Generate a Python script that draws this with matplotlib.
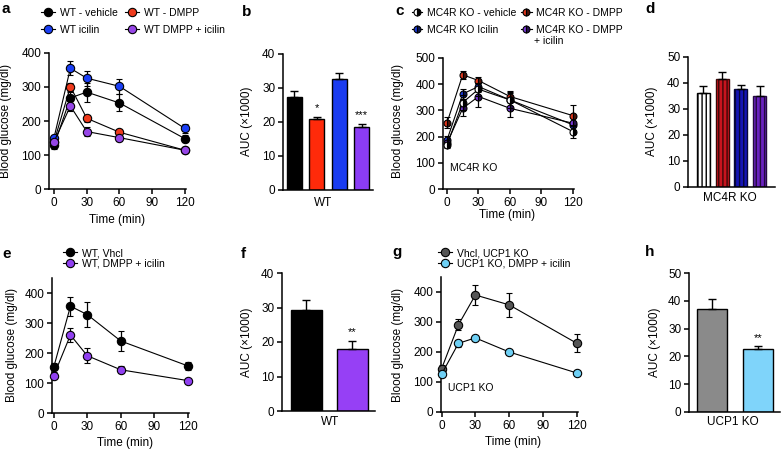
import matplotlib
matplotlib.use("Agg")
import matplotlib.pyplot as plt
from matplotlib.lines import Line2D

# ---- data ----
TIME = [0, 15, 30, 60, 120]

# panel a: WT glucose tolerance
a_vehicle = [128, 268, 285, 253, 148]
a_vehicle_err = [10, 18, 28, 25, 10]
a_dmpp = [139, 301, 208, 167, 114]
a_dmpp_err = [6, 12, 10, 8, 5]
a_icilin = [151, 355, 326, 302, 178]
a_icilin_err = [8, 20, 22, 22, 12]
a_combo = [139, 244, 169, 151, 114]
a_combo_err = [6, 15, 12, 10, 5]

# panel b: WT AUC
b_auc = [27.3, 21.0, 32.7, 18.5]
b_err = [1.8, 0.4, 1.7, 1.0]
b_stars = ["", "*", "", "***"]

# panel c: MC4R KO
c_vehicle = [168, 330, 381, 340, 219]
c_vehicle_err = [12, 30, 25, 30, 25]
c_dmpp = [253, 436, 414, 353, 280]
c_dmpp_err = [20, 15, 15, 20, 40]
c_icilin = [187, 363, 391, 340, 245]
c_icilin_err = [15, 20, 20, 25, 30]
c_combo = [175, 308, 353, 308, 251]
c_combo_err = [15, 30, 40, 35, 25]

# panel d: MC4R KO AUC
d_auc = [36.2, 41.5, 37.5, 35.0]
d_err = [2.8, 2.7, 1.8, 4.0]

# panel e: WT, vehicle vs DMPP + icilin
e_vehicle = [152, 356, 328, 240, 157]
e_vehicle_err = [15, 32, 42, 33, 12]
e_combo = [124, 260, 191, 144, 108]
e_combo_err = [5, 22, 25, 12, 5]

# panel f
f_auc = [29.3, 18.0]
f_err = [3.0, 2.2]
f_stars = ["", "**"]

# panel g: UCP1 KO
g_vehicle = [144, 291, 390, 357, 229]
g_vehicle_err = [12, 18, 32, 40, 30]
g_combo = [126, 229, 247, 200, 130]
g_combo_err = [5, 12, 5, 5, 5]

# panel h
h_auc = [37.2, 22.7]
h_err = [3.4, 1.0]
h_stars = ["", "**"]

W, H = 782, 451
FS = 8.5
plt.rcParams["font.family"] = ["Liberation Sans", "DejaVu Sans"]
plt.rcParams["font.size"] = FS
plt.rcParams["hatch.linewidth"] = 1.0

fig = plt.figure(figsize=(W / 100, H / 100), dpi=100)


def fig_xy(x, y):
    """Pixel position (from top-left) to figure fraction."""
    return x / W, 1 - y / H


def add_panel(x0, x1, top, bottom):
    ax = fig.add_axes([x0 / W, 1 - bottom / H, (x1 - x0) / W, (bottom - top) / H])
    for side in ("top", "right"):
        ax.spines[side].set_visible(False)
    for side in ("left", "bottom"):
        ax.spines[side].set_linewidth(1.1)
    ax.tick_params(direction="out", length=3.5, width=1.1, labelsize=FS, pad=2)
    return ax


def line_series(ax, y, err, face, alt=None, ms=6, z=3):
    kw = dict(marker="o", ms=ms, mfc=face, mec="black", mew=0.8)
    if alt is not None:
        kw.update(fillstyle="left", markerfacecoloralt=alt)
    ax.errorbar(TIME, y, yerr=err, color="black", lw=0.8, elinewidth=0.9,
                capsize=2.5, capthick=0.9, zorder=z, clip_on=False, **kw)


def handle(face, alt=None, ms=6):
    kw = dict(marker="o", ms=ms, mfc=face, mec="black", mew=0.8)
    if alt is not None:
        kw.update(fillstyle="left", markerfacecoloralt=alt)
    return Line2D([], [], color="black", lw=0.8, **kw)


def bar_panel(ax, vals, errs, colors, width, edge=None, hatch=None, stars=None):
    x = list(range(len(vals)))
    edges = edge if edge is not None else ["black"] * len(vals)
    for i in x:
        ax.bar(i, vals[i], width, color=colors[i], edgecolor=edges[i], lw=1.0,
               hatch=hatch, yerr=[[0], [errs[i]]],
               error_kw=dict(ecolor="black", elinewidth=1.0, capsize=3, capthick=1.0),
               zorder=2)
        if stars and stars[i]:
            ax.text(i, vals[i] + errs[i] + 1.2, stars[i], ha="center", va="bottom",
                    fontsize=8)
    ax.set_xticks([])


def time_axis(ax, xlim, ylim, yticks):
    ax.set_xlim(*xlim)
    ax.set_ylim(*ylim)
    ax.set_xticks([0, 30, 60, 90, 120])
    ax.set_yticks(yticks)


def label(x, y, s, **kw):
    fig.text(*fig_xy(x, y), s, ha="center", va="center", fontsize=FS, **kw)


def legend(handles, labels, x, y, ncol=1, **kw):
    opts = dict(loc="upper left", bbox_to_anchor=fig_xy(x, y), ncol=ncol,
                frameon=False, fontsize=7.5, handlelength=1.3, handletextpad=0.5,
                borderpad=0, borderaxespad=0)
    opts.update(kw)
    fig.legend(handles, labels, **opts)


# ---- panel a ----
ax = add_panel(49, 186, 53, 189)
line_series(ax, a_vehicle, a_vehicle_err, "black")
line_series(ax, a_dmpp, a_dmpp_err, "#ee3a1c")
line_series(ax, a_icilin, a_icilin_err, "#1b3ff5")
line_series(ax, a_combo, a_combo_err, "#9646e6")
time_axis(ax, (-4.6, 121), (0, 400), range(0, 401, 100))
label(6, 121, "Blood glucose (mg/dl)", rotation=90)
label(117, 220, "Time (min)")
legend([handle("black"), handle("#1b3ff5"), handle("#ee3a1c"), handle("#9646e6")],
       ["WT - vehicle", "WT icilin", "WT - DMPP", "WT DMPP + icilin"],
       41, 8, ncol=2, columnspacing=0.75, labelspacing=0.65)

# ---- panel b ----
ax = add_panel(283, 373, 54, 190)
bar_panel(ax, b_auc, b_err, ["black", "#ff2a0a", "#1a3cf0", "#8b3cf5"], 0.67,
          stars=b_stars)
ax.set_xlim(-0.51, 3.51)
ax.set_ylim(0, 40)
ax.set_yticks(range(0, 41, 10))
label(247, 121, "AUC (\u00d71000)", rotation=90)
label(323, 203, "WT")

# ---- panel c ----
ax = add_panel(443, 574, 58, 189)
line_series(ax, c_vehicle, c_vehicle_err, "white", "black", ms=5, z=4)
line_series(ax, c_dmpp, c_dmpp_err, "#e0361c", "#4a1208", ms=5)
line_series(ax, c_icilin, c_icilin_err, "#1c3cd8", "#0a1450", ms=5)
line_series(ax, c_combo, c_combo_err, "#7a3ad8", "#2a1050", ms=5)
time_axis(ax, (-3.8, 121), (0, 500), range(0, 501, 100))
ax.text(3, 80, "MC4R KO", ha="left", va="center", fontsize=7.5)
label(398, 121, "Blood glucose (mg/dl)", rotation=90)
label(507, 215, "Time (min)")
legend([handle("white", "black", 5), handle("#1c3cd8", "#0a1450", 5),
        handle("#e0361c", "#4a1208", 5), handle("#7a3ad8", "#2a1050", 5)],
       ["MC4R KO - vehicle", "MC4R KO Icilin", "MC4R KO - DMPP", "MC4R KO - DMPP"],
       412, 8, ncol=2, handlelength=1.0, handletextpad=0.4, columnspacing=0.5,
       labelspacing=0.65)
fig.text(*fig_xy(534, 41), "+ icilin", ha="left", va="center", fontsize=7.5)

# ---- panel d ----
ax = add_panel(688, 775, 57, 187)
bar_panel(ax, d_auc, d_err, ["white", "#c8141e", "#1414b4", "#6a22c0"], 0.7,
          edge=["black", "#3a0808", "#06063a", "#240a40"], hatch="||||")
ax.set_xlim(-0.83, 3.83)
ax.set_ylim(0, 50)
ax.set_yticks(range(0, 51, 10))
label(652, 121, "AUC (\u00d71000)", rotation=90)
label(730, 198, "MC4R KO")

# ---- panel e ----
ax = add_panel(52, 189, 278, 413)
line_series(ax, e_vehicle, e_vehicle_err, "black")
line_series(ax, e_combo, e_combo_err, "#9040f0")
time_axis(ax, (-1.5, 121), (0, 450), range(0, 401, 100))
label(12, 345, "Blood glucose (mg/dl)", rotation=90)
label(125, 443, "Time (min)")
legend([handle("black"), handle("#9040f0")], ["WT, Vhcl", "WT, DMPP + icilin"],
       63, 248, labelspacing=0.05)

# ---- panel f ----
ax = add_panel(282, 375, 273, 411)
bar_panel(ax, f_auc, f_err, ["black", "#9640f5"], 0.67, stars=f_stars)
ax.set_xlim(-0.53, 1.49)
ax.set_ylim(0, 40)
ax.set_yticks(range(0, 41, 10))
label(247, 342, "AUC (\u00d71000)", rotation=90)
label(330, 422, "WT")

# ---- panel g ----
ax = add_panel(441, 578, 277, 412)
line_series(ax, g_vehicle, g_vehicle_err, "#555555")
line_series(ax, g_combo, g_combo_err, "#6fd0f5")
time_axis(ax, (-0.5, 121), (0, 450), range(0, 401, 100))
ax.text(6, 79, "UCP1 KO", ha="left", va="center", fontsize=7.5)
label(398, 345, "Blood glucose (mg/dl)", rotation=90)
label(513, 442, "Time (min)")
legend([handle("#555555"), handle("#6fd0f5")],
       ["Vhcl, UCP1 KO", "UCP1 KO, DMPP + icilin"], 438, 248, labelspacing=0.05)

# ---- panel h ----
ax = add_panel(689, 780, 273, 412)
bar_panel(ax, h_auc, h_err, ["#8a8a8a", "#7fd4fa"], 0.67, stars=h_stars)
ax.set_xlim(-0.5, 1.48)
ax.set_ylim(0, 50)
ax.set_yticks(range(0, 51, 10))
label(655, 342, "AUC (\u00d71000)", rotation=90)
label(733, 422, "UCP1 KO")

# panel letters
for letter, x, y in [("a", 6, 9), ("b", 247, 12), ("c", 400, 11), ("d", 650, 9),
                     ("e", 7, 254), ("f", 243, 254), ("g", 397, 252), ("h", 650, 252)]:
    fig.text(*fig_xy(x, y), letter, ha="center", va="center", fontsize=11,
             fontweight="bold")

fig.savefig("out.png", dpi=100)
